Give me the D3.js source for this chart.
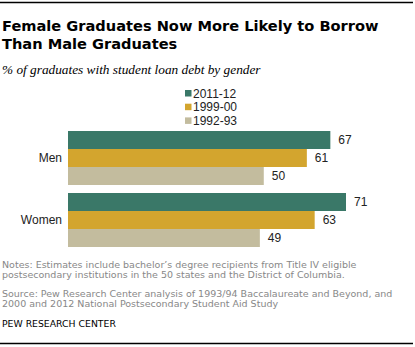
<!DOCTYPE html>
<html>
<head>
<meta charset="utf-8">
<script src="https://cdn.jsdelivr.net/npm/d3@7"></script>
<style>
  body { margin: 0; background: #fff; }
  svg { display: block; }
</style>
</head>
<body>
<svg id="chart" width="415" height="347"></svg>
<script>
const groups = ["Men", "Women"];
const years = ["2011-12", "1999-00", "1992-93"];
const colors = ["#3a7868", "#d3a52e", "#c3bc9e"];
const values = [
  [67, 61, 50],   // Men
  [71, 63, 49]    // Women
];

const svg = d3.select("#chart");

// rules top and bottom
svg.append("line").attr("x1", 0).attr("x2", 413).attr("y1", 2.5).attr("y2", 2.5)
  .attr("stroke", "#000").attr("stroke-width", 1.3);
svg.append("line").attr("x1", 0).attr("x2", 413).attr("y1", 343.5).attr("y2", 343.5)
  .attr("stroke", "#000").attr("stroke-width", 1.3);

// title
const title = svg.append("text")
  .attr("font-family", "DejaVu Sans")
  .attr("font-weight", "bold")
  .attr("font-size", 14.6)
  .attr("fill", "#000");
title.append("tspan").attr("x", 2).attr("y", 30.5).text("Female Graduates Now More Likely to Borrow");
title.append("tspan").attr("x", 2).attr("y", 48.5).text("Than Male Graduates");

svg.append("text")
  .attr("x", 2).attr("y", 74)
  .attr("font-family", "Liberation Serif, serif")
  .attr("font-style", "italic")
  .attr("font-size", 13.3)
  .text("% of graduates with student loan debt by gender");

// legend
const legend = svg.append("g").attr("transform", "translate(185,87)");
years.forEach(function(year, i) {
  legend.append("rect")
    .attr("x", 0).attr("y", i * 13.7 + 3)
    .attr("width", 6.5).attr("height", 6.5)
    .attr("fill", colors[i]);
  legend.append("text")
    .attr("x", 8).attr("y", i * 13.7 + 10.5)
    .attr("font-family", "Liberation Sans")
    .attr("font-size", 12)
    .attr("fill", "#222")
    .text(year);
});

// scales
const x = d3.scaleLinear().domain([0, 71]).range([68, 346]);
const y0 = d3.scaleBand().domain(groups).range([131, 247]).paddingInner(0.129).paddingOuter(0);
const y1 = d3.scaleBand().domain(years).range([0, y0.bandwidth()]);

const g = svg.append("g");
groups.forEach(function(grp, gi) {
  const row = g.append("g").attr("transform", `translate(0,${y0(grp)})`);
  years.forEach(function(year, yi) {
    const v = values[gi][yi];
    row.append("rect")
      .attr("x", x(0))
      .attr("y", y1(year))
      .attr("width", x(v) - x(0))
      .attr("height", y1.bandwidth())
      .attr("fill", colors[yi]);
    row.append("text")
      .attr("x", x(v) + 8)
      .attr("y", y1(year) + y1.bandwidth() / 2)
      .attr("dy", "0.35em")
      .attr("font-family", "Liberation Sans")
      .attr("font-size", 12)
      .attr("fill", "#222")
      .text(v);
  });
  svg.append("text")
    .attr("x", 62)
    .attr("y", y0(grp) + y0.bandwidth() / 2)
    .attr("dy", "0.35em")
    .attr("text-anchor", "end")
    .attr("font-family", "Liberation Sans")
    .attr("font-size", 12)
    .attr("fill", "#222")
    .text(grp);
});

// notes
const note = svg.append("g")
  .attr("font-family", "DejaVu Sans")
  .attr("font-size", 9.5)
  .attr("fill", "#888");
[
  ["Notes: Estimates include bachelor\u2019s degree recipients from Title IV eligible", 268],
  ["postsecondary institutions in the 50 states and the District of Columbia.", 277.5],
  ["Source: Pew Research Center analysis of 1993/94 Baccalaureate and Beyond, and", 297],
  ["2000 and 2012 National Postsecondary Student Aid Study", 306.5]
].forEach(function(d) {
  note.append("text").attr("x", 2).attr("y", d[1]).text(d[0]);
});

svg.append("text")
  .attr("x", 2).attr("y", 327)
  .attr("font-family", "DejaVu Sans")
  .attr("font-size", 9.3)
  .attr("fill", "#000")
  .text("PEW RESEARCH CENTER");
</script>
</body>
</html>
